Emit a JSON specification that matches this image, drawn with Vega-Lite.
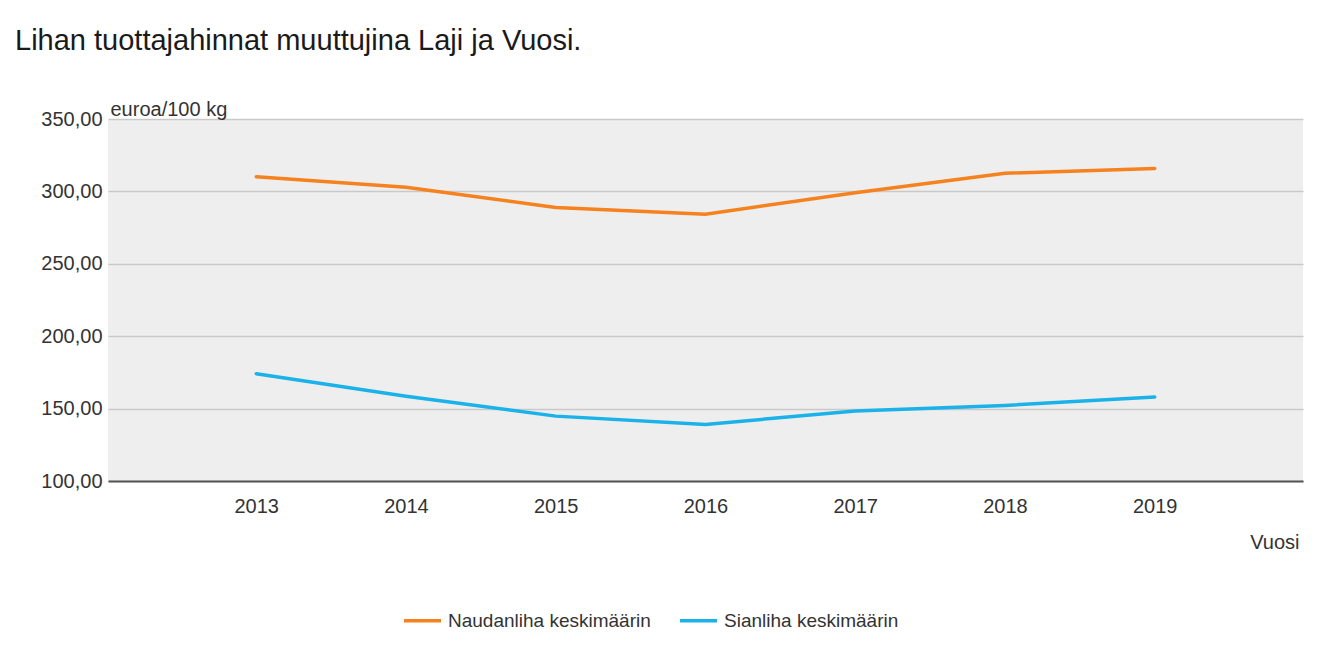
{
  "$schema": "https://vega.github.io/schema/vega-lite/v6.json",
  "autosize": {"type": "none"},
  "width": 1195,
  "height": 362,
  "padding": {"left": 108, "top": 119, "right": 30, "bottom": 170},
  "background": "#ffffff",
  "title": {
    "text": "Lihan tuottajahinnat muuttujina Laji ja Vuosi.",
    "anchor": "start",
    "frame": "group",
    "dx": -93,
    "fontSize": 29,
    "font": "Liberation Sans",
    "fontWeight": "normal",
    "color": "#1a1a1a",
    "baseline": "alphabetic",
    "offset": 20
  },
  "data": {
    "values": [
      {"Vuosi": 2013, "Laji": "Naudanliha keskimäärin", "Hinta": 310.1},
      {"Vuosi": 2014, "Laji": "Naudanliha keskimäärin", "Hinta": 302.8},
      {"Vuosi": 2015, "Laji": "Naudanliha keskimäärin", "Hinta": 288.9},
      {"Vuosi": 2016, "Laji": "Naudanliha keskimäärin", "Hinta": 284.3},
      {"Vuosi": 2017, "Laji": "Naudanliha keskimäärin", "Hinta": 299.0},
      {"Vuosi": 2018, "Laji": "Naudanliha keskimäärin", "Hinta": 312.5},
      {"Vuosi": 2019, "Laji": "Naudanliha keskimäärin", "Hinta": 315.9},
      {"Vuosi": 2013, "Laji": "Sianliha keskimäärin", "Hinta": 174.1},
      {"Vuosi": 2014, "Laji": "Sianliha keskimäärin", "Hinta": 158.6},
      {"Vuosi": 2015, "Laji": "Sianliha keskimäärin", "Hinta": 144.8},
      {"Vuosi": 2016, "Laji": "Sianliha keskimäärin", "Hinta": 139.1},
      {"Vuosi": 2017, "Laji": "Sianliha keskimäärin", "Hinta": 148.3},
      {"Vuosi": 2018, "Laji": "Sianliha keskimäärin", "Hinta": 152.2},
      {"Vuosi": 2019, "Laji": "Sianliha keskimäärin", "Hinta": 158.0}
    ]
  },
  "mark": {"type": "line", "strokeWidth": 3.5, "strokeCap": "round"},
  "encoding": {
    "x": {
      "field": "Vuosi",
      "type": "quantitative",
      "scale": {"domain": [2012.01, 2019.99], "nice": false, "zero": false},
      "axis": {
        "values": [2013, 2014, 2015, 2016, 2017, 2018, 2019],
        "format": "d",
        "grid": false,
        "ticks": false,
        "domainColor": "#555555",
        "domainWidth": 2,
        "labelFontSize": 20,
        "labelPadding": 15,
        "labelColor": "#333333",
        "labelFont": "Liberation Sans",
        "title": "Vuosi",
        "titleFont": "Liberation Sans",
        "titleFontSize": 20,
        "titleFontWeight": "normal",
        "titleColor": "#333333",
        "titleAnchor": "end",
        "titleAlign": "right",
        "titleBaseline": "alphabetic",
        "titleX": 1191,
        "titleY": 67
      }
    },
    "y": {
      "field": "Hinta",
      "type": "quantitative",
      "scale": {"domain": [100, 350], "nice": false, "zero": false},
      "axis": {
        "values": [100, 150, 200, 250, 300, 350],
        "labelExpr": "replace(format(datum.value, '.2f'), '.', ',')",
        "grid": true,
        "gridColor": "#c9c9c9",
        "gridWidth": 1.5,
        "domain": false,
        "ticks": false,
        "labelFontSize": 20,
        "labelPadding": 6,
        "labelColor": "#333333",
        "labelFont": "Liberation Sans",
        "title": "euroa/100 kg",
        "titleFont": "Liberation Sans",
        "titleFontSize": 20,
        "titleFontWeight": "normal",
        "titleColor": "#333333",
        "titleAngle": 0,
        "titleAlign": "left",
        "titleBaseline": "alphabetic",
        "titleX": 2,
        "titleY": -4
      }
    },
    "color": {
      "field": "Laji",
      "type": "nominal",
      "scale": {
        "domain": ["Naudanliha keskimäärin", "Sianliha keskimäärin"],
        "range": ["#f5821f", "#1ab2e8"]
      },
      "legend": {
        "title": null,
        "orient": "none",
        "direction": "horizontal",
        "legendX": 294,
        "legendY": 481,
        "symbolType": "stroke",
        "symbolSize": 1369,
        "symbolStrokeWidth": 3.5,
        "labelFontSize": 19,
        "labelFont": "Liberation Sans",
        "labelColor": "#333333",
        "labelOffset": 5,
        "labelLimit": 500,
        "columnPadding": 22
      }
    }
  },
  "config": {
    "view": {"fill": "#eeeeee", "stroke": null}
  }
}
